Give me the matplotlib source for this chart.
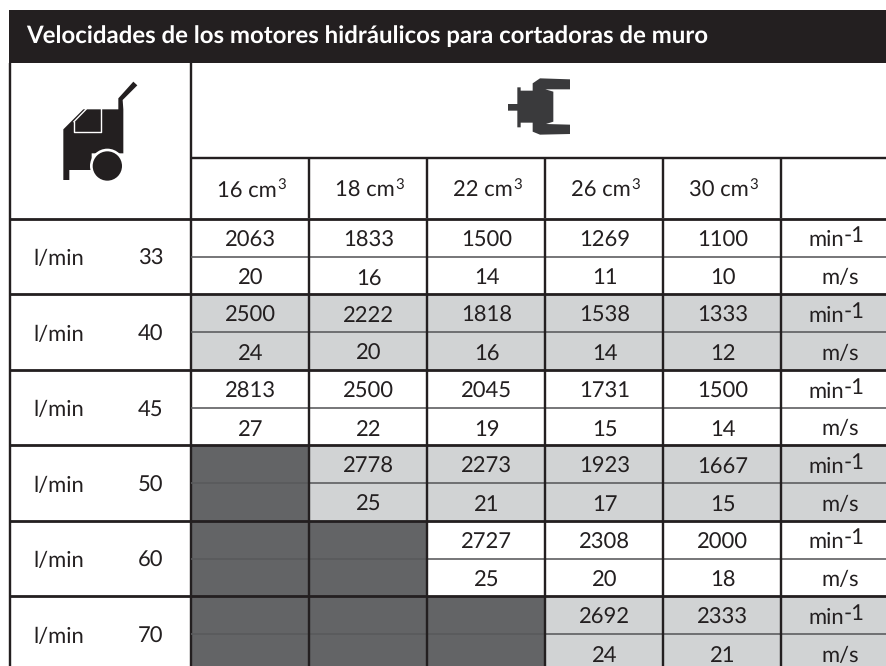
import matplotlib
matplotlib.use('Agg')
from matplotlib import pyplot as plt
from matplotlib.patches import Rectangle, Polygon, Circle

plt.rcParams['font.family'] = ['Lato', 'DejaVu Sans']
plt.rcParams['text.hinting'] = 'no_hinting'
plt.rcParams['text.hinting_factor'] = 1

TITLE = 'Velocidades de los motores hidráulicos para cortadoras de muro'
DISPLACEMENTS = ['16 cm', '18 cm', '22 cm', '26 cm', '30 cm']
FLOW_UNIT = 'l/min'
FLOWS = [33, 40, 45, 50, 60, 70]
RPM = [
    [2063, 1833, 1500, 1269, 1100],
    [2500, 2222, 1818, 1538, 1333],
    [2813, 2500, 2045, 1731, 1500],
    [None, 2778, 2273, 1923, 1667],
    [None, None, 2727, 2308, 2000],
    [None, None, None, 2692, 2333],
]
SPEED = [
    [20, 16, 14, 11, 10],
    [24, 20, 16, 14, 12],
    [27, 22, 19, 15, 14],
    [None, 25, 21, 17, 15],
    [None, None, 25, 20, 18],
    [None, None, None, 24, 21],
]
SHADED_ROWS = [1, 3, 5]

W, H = 887, 666
DARK = '#231f20'
GREY = '#d1d3d4'
BLOCKED = '#636466'
TEXT = '#231f20'
FS = 15.8

COL_X = [191, 309, 427, 545, 663, 781, 900]
ROW_TOP = 218.5
ROW_H = 75.5
HALF = 38.0
LEFT = 10


def px_line(ax, xs, ys, lw=2.4, color=DARK, z=3):
    ax.plot(xs, ys, color=color, lw=lw * 72 / 100, solid_capstyle='butt', zorder=z)


def draw_cart(ax):
    # traced from the icon, 1/3 px units
    pts = [(190, 388), (250, 328), (355, 328), (355, 295), (400, 245), (412, 256),
           (368, 300), (370, 328), (370, 460), (275, 460), (275, 510), (208, 510),
           (208, 540), (190, 540)]
    ax.add_patch(Polygon([(x / 3, y / 3) for x, y in pts], fc=DARK, ec='none', zorder=4))
    ax.plot([222 / 3, 222 / 3, 302 / 3, 302 / 3], [365 / 3, 397 / 3, 397 / 3, 328 / 3],
            color='white', lw=1.0, zorder=5)
    ax.plot([222 / 3, 258 / 3], [365 / 3, 328 / 3], color='white', lw=1.0, zorder=5)
    ax.add_patch(Circle((322 / 3, 498 / 3), 52 / 3, fc='white', ec='none', zorder=5))
    ax.add_patch(Circle((322 / 3, 498 / 3), 44 / 3, fc=DARK, ec='none', zorder=6))


def draw_motor(ax):
    pts = [(204, 312), (232, 312), (232, 262), (242, 262), (242, 272), (278, 272),
           (278, 250), (300, 235), (390, 238), (390, 268), (316, 268), (340, 275),
           (340, 365), (318, 372), (390, 374), (390, 402), (300, 404), (278, 395),
           (278, 368), (242, 368), (242, 382), (232, 382), (232, 332), (204, 332)]
    ax.add_patch(Polygon([(440 + x / 3, y / 3) for x, y in pts], fc='#3a3a3c', ec='none', zorder=4))


def main():
    fig = plt.figure(figsize=(W / 100, H / 100), dpi=100)
    ax = fig.add_axes([0, 0, 1, 1])
    ax.set_xlim(0, W)
    ax.set_ylim(H, 0)
    ax.axis('off')

    # title band
    ax.add_patch(Rectangle((LEFT - 1, 10), W, 53, fc=DARK, ec='none', zorder=2))
    ax.text(26, 43, TITLE, color='white', fontsize=17, fontweight='bold',
            va='baseline', zorder=5)

    # header lines
    px_line(ax, [COL_X[0], W], [158, 158])
    px_line(ax, [LEFT, LEFT], [63, H])
    px_line(ax, [COL_X[0], COL_X[0]], [63, H])
    for x in COL_X[1:6]:
        px_line(ax, [x, x], [158, 218])
    for i, label in enumerate(DISPLACEMENTS):
        cx = (COL_X[i] + COL_X[i + 1]) / 2
        ax.text(cx + 26.5, 197, label, ha='right', va='baseline', fontsize=FS, color=TEXT, zorder=5)
        ax.text(cx + 27, 190, '3', ha='left', va='baseline', fontsize=10.5, color=TEXT, zorder=5)
    draw_cart(ax)
    draw_motor(ax)

    for r, flow in enumerate(FLOWS):
        top = ROW_TOP + r * ROW_H
        mid = top + HALF
        bottom = top + ROW_H
        ax.text(33, top + ROW_H / 2 + 9, FLOW_UNIT, ha='left', va='baseline', fontsize=FS, color=TEXT)
        ax.text(151, top + ROW_H / 2 + 9, str(flow), ha='center', va='baseline', fontsize=FS, color=TEXT)
        if r in SHADED_ROWS:
            ax.add_patch(Rectangle((COL_X[0], top), W - COL_X[0], ROW_H, fc=GREY, ec='none', zorder=1))
        for c in range(5):
            x0, x1 = COL_X[c], COL_X[c + 1]
            if RPM[r][c] is None:
                ax.add_patch(Rectangle((x0, top), x1 - x0, ROW_H, fc=BLOCKED, ec='none', zorder=2))
            else:
                ax.text((x0 + x1) / 2 + 1, top + 28, str(RPM[r][c]), ha='center', va='baseline',
                        fontsize=FS, color=TEXT, zorder=5)
                ax.text((x0 + x1) / 2 + 1, mid + 28, str(SPEED[r][c]), ha='center', va='baseline',
                        fontsize=FS, color=TEXT, zorder=5)
        ax.text(844, top + 28, 'min', ha='right', va='baseline', fontsize=FS, color=TEXT, zorder=5)
        ax.text(844, top + 24, '-1', ha='left', va='baseline', fontsize=FS, color=TEXT, zorder=5)
        ax.text(840, mid + 28, 'm/s', ha='center', va='baseline', fontsize=FS, color=TEXT, zorder=5)
        px_line(ax, [COL_X[0], W], [mid, mid], lw=1.6, color='#58595b')
        for x in COL_X[1:6]:
            px_line(ax, [x, x], [top, bottom])

    for r in range(len(FLOWS) + 1):
        y = ROW_TOP + r * ROW_H
        px_line(ax, [LEFT, W], [y, y], lw=2.8)

    fig.savefig('out.png', dpi=100)


if __name__ == "__main__":
    main()
